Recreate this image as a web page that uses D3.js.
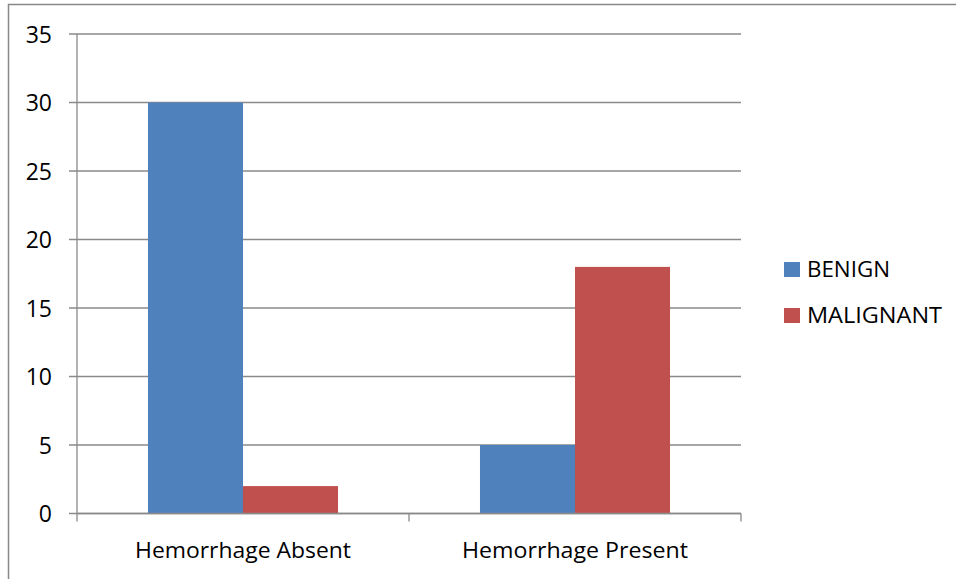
<!DOCTYPE html>
<html>
<head>
<meta charset="utf-8">
<script src="https://cdn.jsdelivr.net/npm/d3@7"></script>
<style>
  html, body { margin: 0; padding: 0; background: #fff; }
  svg { display: block; font-family: "Open Sans", "Liberation Sans", sans-serif; }
</style>
</head>
<body>
<svg id="chart" width="956" height="579"></svg>
<script>
// Cases by hemorrhage status, split by diagnosis
const categories = ["Hemorrhage Absent", "Hemorrhage Present"];
const seriesNames = ["BENIGN", "MALIGNANT"];
const benign = [30, 5];
const malignant = [2, 18];
const yTicks = [0, 5, 10, 15, 20, 25, 30, 35];
const colors = ["#4F81BD", "#C0504D"];

const svg = d3.select("#chart");
const margin = { left: 77, top: 34, right: 741, bottom: 513.5 };

// outer chart frame
svg.append("rect")
  .attr("x", 8.5).attr("y", 4.5)
  .attr("width", 1000).attr("height", 1000)
  .attr("fill", "none").attr("stroke", "#888").attr("stroke-width", 1.5);

const x0 = d3.scaleBand().domain(categories).range([margin.left, margin.right]).paddingInner(0).paddingOuter(0);
const x1 = d3.scaleBand().domain(seriesNames)
  .range([0, x0.bandwidth()]).paddingOuter(0.747).paddingInner(0);
const y = d3.scaleLinear().domain([0, 35]).range([margin.bottom, margin.top]);

// horizontal gridlines
svg.append("g").selectAll("line").data(yTicks).join("line")
  .attr("x1", margin.left - 8).attr("x2", margin.right)
  .attr("y1", d => y(d)).attr("y2", d => y(d))
  .attr("stroke", "#8a8a8a").attr("stroke-width", 1.3);

// bars
const data = categories.map((c, i) => ({ cat: c, vals: [benign[i], malignant[i]] }));
svg.append("g").selectAll("g").data(data).join("g")
  .attr("transform", d => `translate(${x0(d.cat)},0)`)
  .selectAll("rect").data(d => d.vals.map((v, j) => ({ key: seriesNames[j], v, j })))
  .join("rect")
  .attr("x", d => x1(d.key))
  .attr("width", x1.bandwidth())
  .attr("y", d => y(d.v))
  .attr("height", d => y(0) - y(d.v))
  .attr("fill", d => colors[d.j]);

// y axis line
svg.append("line")
  .attr("x1", margin.left).attr("x2", margin.left)
  .attr("y1", margin.top).attr("y2", margin.bottom + 8)
  .attr("stroke", "#8a8a8a").attr("stroke-width", 1.3);

// x axis line and category separators
svg.append("line")
  .attr("x1", margin.left).attr("x2", margin.right)
  .attr("y1", margin.bottom).attr("y2", margin.bottom)
  .attr("stroke", "#8a8a8a").attr("stroke-width", 1.3);
const sepX = [x0(categories[0]) + x0.bandwidth(), margin.right];
svg.append("g").selectAll("line").data(sepX).join("line")
  .attr("x1", d => d).attr("x2", d => d)
  .attr("y1", margin.bottom).attr("y2", margin.bottom + 8)
  .attr("stroke", "#8a8a8a").attr("stroke-width", 1.3);

// y tick labels
svg.append("g").selectAll("text").data(yTicks).join("text")
  .attr("x", 52).attr("y", d => y(d) + 8.5)
  .attr("text-anchor", "end")
  .attr("font-size", 23).attr("fill", "#000")
  .text(d => d);

// category labels
svg.append("g").selectAll("text").data(categories).join("text")
  .attr("x", d => x0(d) + x0.bandwidth() / 2)
  .attr("y", 558)
  .attr("text-anchor", "middle")
  .attr("font-size", 21).attr("fill", "#000")
  .attr("textLength", (d, i) => i === 0 ? 216 : 226).attr("lengthAdjust", "spacingAndGlyphs")
  .text(d => d);

// legend
const legendWidths = [83, 135];
const legend = svg.append("g").selectAll("g").data(seriesNames).join("g")
  .attr("transform", (d, i) => `translate(784,${262 + i * 46})`);
legend.append("rect")
  .attr("width", 16).attr("height", 15)
  .attr("fill", (d, i) => colors[i]);
legend.append("text")
  .attr("x", 23).attr("y", 14.5)
  .attr("font-size", 21).attr("fill", "#000")
  .attr("textLength", (d, i) => legendWidths[i]).attr("lengthAdjust", "spacingAndGlyphs")
  .text(d => d);
</script>
</body>
</html>
